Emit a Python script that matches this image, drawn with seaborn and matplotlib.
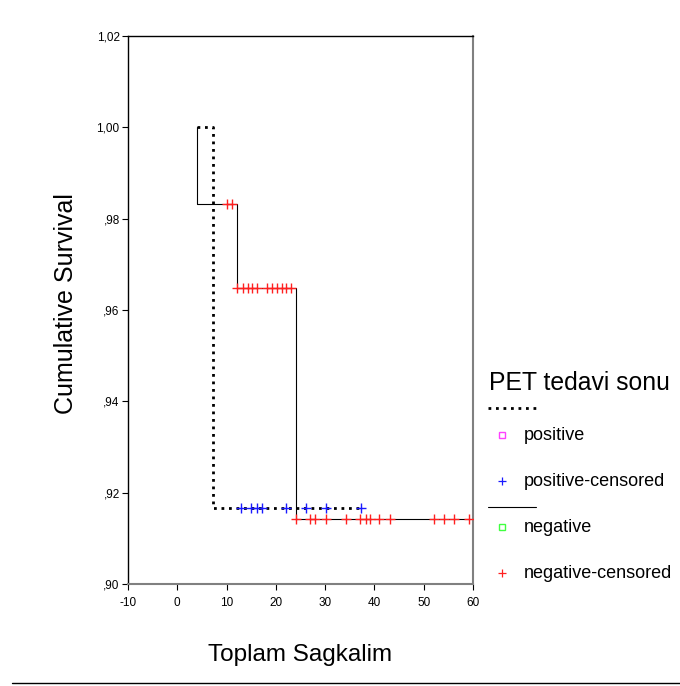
import matplotlib
matplotlib.use("Agg")
import matplotlib.pyplot as plt
from matplotlib.lines import Line2D
import seaborn as sns
import pandas as pd

# ---- data ----
pos_step_time = [4.0, 7.2, 37.2]
pos_step_surv = [1.0, 0.9167, 0.9167]
pos_cens_time = [13.0, 14.9, 16.2, 17.2, 22.0, 26.2, 30.1, 37.2]
pos_cens_surv = [0.9167] * 8

neg_step_time = [4.0, 4.0, 12.2, 24.1, 59.2]
neg_step_surv = [1.0, 0.9833, 0.9648, 0.9142, 0.9142]
neg_cens_time = ([10.1, 11.1] +
                 [12.2, 13.3, 14.3, 15.2, 16.2, 18.2, 19.2, 20.2, 21.2, 22.1, 23.1] +
                 [24.0, 27.0, 28.0, 30.1, 34.2, 37.1, 38.2, 39.2, 41.0, 43.2, 52.1, 54.1, 56.1, 59.2])
neg_cens_surv = [0.9833] * 2 + [0.9648] * 11 + [0.9142] * 14

x_ticks = [-10, 0, 10, 20, 30, 40, 50, 60]
y_ticks = [0.90, 0.92, 0.94, 0.96, 0.98, 1.00, 1.02]
y_tick_labels = [",90", ",92", ",94", ",96", ",98", "1,00", "1,02"]
legend_title = "PET tedavi sonu"
legend_labels = ["positive", "positive-censored", "negative", "negative-censored"]

sns.set_theme(style="white")
plt.rcParams["font.family"] = ["Liberation Sans", "DejaVu Sans"]
plt.rcParams["text.color"] = "black"
plt.rcParams["xtick.color"] = "black"
plt.rcParams["ytick.color"] = "black"
plt.rcParams["axes.labelcolor"] = "black"

fig = plt.figure(figsize=(6.8, 6.86), dpi=100)
ax = fig.add_axes([128 / 680, 1 - 584 / 686, (473 - 128) / 680, (584 - 36) / 686])

pos_df = pd.DataFrame({"t": pos_step_time, "s": pos_step_surv})
neg_df = pd.DataFrame({"t": neg_step_time, "s": neg_step_surv})

sns.lineplot(data=neg_df, x="t", y="s", ax=ax, drawstyle="steps-post", color="black",
             linewidth=0.8, sort=False, estimator=None, zorder=2)
sns.lineplot(data=pos_df, x="t", y="s", ax=ax, drawstyle="steps-post", color="black",
             linewidth=2.0, sort=False, estimator=None, dashes=False, zorder=3)
ax.lines[-1].set_dashes((1.0, 1.7))
ax.lines[-1].set_dash_capstyle("butt")

sns.scatterplot(x=neg_cens_time, y=neg_cens_surv, ax=ax, marker="+", color="#ff2020",
                s=55, linewidth=1.0, zorder=4)
sns.scatterplot(x=pos_cens_time, y=pos_cens_surv, ax=ax, marker="+", color="#1a1aff",
                s=55, linewidth=1.0, zorder=5)

ax.set_xlim(-10, 60)
ax.set_ylim(0.90, 1.02)
ax.set_xticks(x_ticks)
ax.set_xticklabels([str(v) for v in x_ticks], fontsize=8.5)
ax.set_yticks(y_ticks)
ax.set_yticklabels(y_tick_labels, fontsize=8.5)
ax.tick_params(axis="both", direction="out", length=4, width=0.8, color="black",
               labelcolor="black", bottom=True, left=True)
ax.tick_params(axis="x", pad=5)
ax.tick_params(axis="y", pad=2)
ax.set_xlabel("")
ax.set_ylabel("")
for side in ["left", "top"]:
    ax.spines[side].set_color("black")
    ax.spines[side].set_linewidth(1.0)
for side in ["right", "bottom"]:
    ax.spines[side].set_color("#808080")
    ax.spines[side].set_linewidth(1.5)

fig.text(300 / 680, 1 - 655 / 686, "Toplam Sagkalim", fontsize=17.5, ha="center", va="center",
         color="black")
fig.text(66 / 680, 1 - 304 / 686, "Cumulative Survival", fontsize=18, rotation=90,
         ha="center", va="center", color="black")

# legend
fig.text(489 / 680, 1 - 383 / 686, legend_title, fontsize=17.8, ha="left", va="center",
         color="black")
lx0, lx1 = 488 / 680, 536 / 680
dot = Line2D([lx0, lx1], [1 - 408 / 686] * 2, transform=fig.transFigure, color="black",
             linewidth=2.0, dashes=(1.0, 1.7), dash_capstyle="butt")
sol = Line2D([lx0, lx1], [1 - 507 / 686] * 2, transform=fig.transFigure, color="black",
             linewidth=0.8)
fig.add_artist(dot)
fig.add_artist(sol)
entries = [(435, "s", "#ff40ff", "none"), (481, "+", "#1a1aff", None),
           (527, "s", "#40ff40", "none"), (573, "+", "#ff2020", None)]
for (yy, mk, col, fc), lab in zip(entries, legend_labels):
    y = 1 - yy / 686
    if mk == "s":
        fig.add_artist(Line2D([502 / 680], [y], transform=fig.transFigure, marker="s",
                              markersize=4.5, markerfacecolor="none", markeredgecolor=col,
                              markeredgewidth=1.0, linestyle="none"))
    else:
        fig.add_artist(Line2D([502 / 680], [y], transform=fig.transFigure, marker="+",
                              markersize=6, color=col, markeredgewidth=0.9, linestyle="none"))
    fig.text(524 / 680, y, lab, fontsize=13, ha="left", va="center", color="black")

fig.add_artist(Line2D([12 / 680, 680 / 680], [1 - 683 / 686] * 2, transform=fig.transFigure,
                      color="black", linewidth=1.0))

fig.savefig("out.png", dpi=100, facecolor="white")
